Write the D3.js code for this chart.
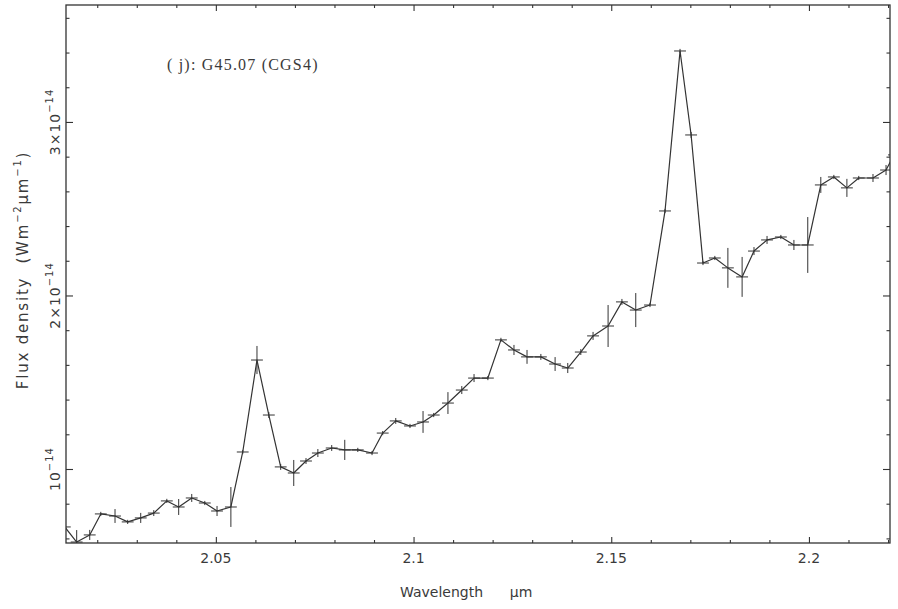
<!DOCTYPE html>
<html>
<head>
<meta charset="utf-8">
<script src="https://cdn.jsdelivr.net/npm/d3@7"></script>
<style>
  html, body { margin: 0; padding: 0; background: #fff; }
  svg { display: block; }
  text { fill: #3a3a3a; }
</style>
</head>
<body>
<svg id="chart" width="898" height="609"></svg>
<script>
// Spectrum of G45.07 (CGS4): wavelength in µm, flux density in units of 1e-14 W m^-2 µm^-1
const wavelength = [
  2.0118, 2.0148, 2.0181, 2.0209, 2.0245, 2.0277, 2.0310, 2.0343, 2.0376, 2.0406,
  2.0439, 2.0472, 2.0503, 2.0538, 2.0568, 2.0604, 2.0634, 2.0664, 2.0697, 2.0728,
  2.0758, 2.0793, 2.0826, 2.0859, 2.0895, 2.0922, 2.0955, 2.0991, 2.1024, 2.1051,
  2.1087, 2.1122, 2.1153, 2.1188, 2.1221, 2.1254, 2.1287, 2.1322, 2.1358, 2.1390,
  2.1423, 2.1454, 2.1492, 2.1527, 2.1562, 2.1598, 2.1636, 2.1674, 2.1702, 2.1732,
  2.1762, 2.1795, 2.1831, 2.1861, 2.1894, 2.1929, 2.1962, 2.1997, 2.2030, 2.2063,
  2.2096, 2.2126, 2.2162, 2.2195, 2.2215
];
const flux = [
  0.666, 0.579, 0.620, 0.741, 0.729, 0.695, 0.718, 0.746, 0.816, 0.781,
  0.833, 0.804, 0.758, 0.781, 1.098, 1.628, 1.311, 1.012, 0.977, 1.046,
  1.092, 1.121, 1.110, 1.110, 1.092, 1.207, 1.277, 1.248, 1.271, 1.311,
  1.380, 1.455, 1.524, 1.524, 1.744, 1.686, 1.646, 1.646, 1.605, 1.582,
  1.674, 1.767, 1.824, 1.963, 1.916, 1.945, 2.487, 3.409, 2.925, 2.187,
  2.216, 2.159, 2.107, 2.256, 2.320, 2.337, 2.291, 2.291, 2.637, 2.683,
  2.620, 2.677, 2.677, 2.723, 2.810
];
const fluxErr = [
  0.023, 0.069, 0.029, 0.012, 0.040, 0.012, 0.029, 0.017, 0.012, 0.046,
  0.023, 0.012, 0.029, 0.115, 0.012, 0.081, 0.017, 0.017, 0.075, 0.017,
  0.023, 0.017, 0.058, 0.012, 0.012, 0.012, 0.017, 0.012, 0.063, 0.012,
  0.063, 0.023, 0.023, 0.012, 0.012, 0.029, 0.040, 0.017, 0.040, 0.029,
  0.017, 0.023, 0.121, 0.017, 0.098, 0.012, 0.012, 0.012, 0.017, 0.012,
  0.012, 0.115, 0.115, 0.023, 0.023, 0.012, 0.029, 0.161, 0.046, 0.012,
  0.052, 0.012, 0.023, 0.029, 0.029
];
// half width of each spectral bin, µm
const binHalfWidth = 0.0015;

const xMajorTicks = [2.05, 2.1, 2.15, 2.2];
const xTickLabels = ["2.05", "2.1", "2.15", "2.2"];
const yMajorTicks = [1, 2, 3];
const yTickLabels = [["10", "−14"], ["2×10", "−14"], ["3×10", "−14"]];

const titleText = "( j): G45.07 (CGS4)";

const data = wavelength.map((w, i) => ({ w, f: flux[i], e: fluxErr[i] }));

const margin = { left: 66, right: 8, top: 5, bottom: 66 };
const W = 898, H = 609;
const x = d3.scaleLinear().domain([2.0121, 2.2205]).range([margin.left, W - margin.right]);
const y = d3.scaleLinear().domain([0.5735, 3.674]).range([H - margin.bottom, margin.top]);

const svg = d3.select("#chart");
const ink = "#333";
const sans = "'DejaVu Sans', sans-serif";

svg.append("defs").append("clipPath").attr("id", "plotClip")
  .append("rect")
  .attr("x", x.range()[0]).attr("y", y.range()[1])
  .attr("width", x.range()[1] - x.range()[0])
  .attr("height", y.range()[0] - y.range()[1]);

// ticks (inward on all four sides)
const xMinor = d3.range(2.02, 2.2201, 0.01).filter(v => !xMajorTicks.some(m => Math.abs(m - v) < 1e-6));
const yMinor = d3.range(0.6, 3.601, 0.2).filter(v => !yMajorTicks.some(m => Math.abs(m - v) < 1e-6));

function axisPair(gen, size, ticks, transformA, transformB) {
  [transformA, transformB].forEach((t, k) => {
    const g = svg.append("g").attr("transform", t)
      .call(gen[k].tickValues(ticks).tickSize(size).tickFormat(""));
    g.select(".domain").remove();
    g.selectAll("line").attr("stroke", ink).attr("stroke-width", 1.1);
  });
}
const bottomY = y.range()[0], topY = y.range()[1];
const leftX = x.range()[0], rightX = x.range()[1];

// x ticks: bottom axis points up, top axis points down
axisPair([d3.axisTop(x), d3.axisBottom(x)], 6, xMajorTicks,
  `translate(0,${bottomY})`, `translate(0,${topY})`);
axisPair([d3.axisTop(x), d3.axisBottom(x)], 3, xMinor,
  `translate(0,${bottomY})`, `translate(0,${topY})`);
// y ticks: left axis points right, right axis points left
axisPair([d3.axisRight(y), d3.axisLeft(y)], 7, yMajorTicks,
  `translate(${leftX},0)`, `translate(${rightX},0)`);
axisPair([d3.axisRight(y), d3.axisLeft(y)], 3.5, yMinor,
  `translate(${leftX},0)`, `translate(${rightX},0)`);

// frame
svg.append("rect")
  .attr("x", leftX).attr("y", topY)
  .attr("width", rightX - leftX).attr("height", bottomY - topY)
  .attr("fill", "none").attr("stroke", ink).attr("stroke-width", 1.3);

// x tick labels
svg.append("g").selectAll("text").data(xMajorTicks).join("text")
  .style("font-family", sans)
  .attr("x", d => x(d)).attr("y", 563)
  .attr("text-anchor", "middle").attr("font-size", 14)
  .text((d, i) => xTickLabels[i]);

// y tick labels, rotated
const yl = svg.append("g").selectAll("text").data(yMajorTicks).join("text")
  .style("font-family", sans).style("letter-spacing", "1px")
  .attr("transform", d => `translate(60,${y(d)}) rotate(-90)`)
  .attr("text-anchor", "middle").attr("font-size", 14);
yl.append("tspan").text((d, i) => yTickLabels[i][0]);
yl.append("tspan").attr("dy", -7).attr("font-size", 10).text((d, i) => yTickLabels[i][1]);

// axis titles
svg.append("text")
  .style("font-family", sans)
  .attr("x", 400).attr("y", 597).attr("font-size", 14)
  .attr("xml:space", "preserve")
  .text("Wavelength      µm");

const yt = svg.append("text")
  .style("font-family", sans).style("letter-spacing", "1.8px")
  .attr("transform", "translate(28,270) rotate(-90)")
  .attr("text-anchor", "middle").attr("font-size", 15)
  .attr("xml:space", "preserve");
yt.append("tspan").text("Flux density  (Wm");
yt.append("tspan").attr("dy", -7).attr("font-size", 10).text("−2");
yt.append("tspan").attr("dy", 7).text("µm");
yt.append("tspan").attr("dy", -7).attr("font-size", 10).text("−1");
yt.append("tspan").attr("dy", 7).text(")");

// title
svg.append("text")
  .style("font-family", "'Liberation Serif', serif").style("letter-spacing", "1.2px")
  .attr("x", 167).attr("y", 70)
  .attr("font-size", 16)
  .attr("xml:space", "preserve")
  .text(titleText);

// spectrum
const plot = svg.append("g").attr("clip-path", "url(#plotClip)");
plot.append("path")
  .datum(data)
  .attr("fill", "none").attr("stroke", ink).attr("stroke-width", 1.2)
  .attr("stroke-linejoin", "round")
  .attr("d", d3.line().x(d => x(d.w)).y(d => y(d.f)));

const bars = plot.append("g").attr("stroke", ink).attr("stroke-width", 1);
bars.selectAll("line.v").data(data).join("line").attr("class", "v")
  .attr("x1", d => x(d.w)).attr("x2", d => x(d.w))
  .attr("y1", d => y(d.f - d.e)).attr("y2", d => y(d.f + d.e));
bars.selectAll("line.h").data(data).join("line").attr("class", "h")
  .attr("x1", d => x(d.w - binHalfWidth)).attr("x2", d => x(d.w + binHalfWidth))
  .attr("y1", d => y(d.f)).attr("y2", d => y(d.f));
</script>
</body>
</html>
